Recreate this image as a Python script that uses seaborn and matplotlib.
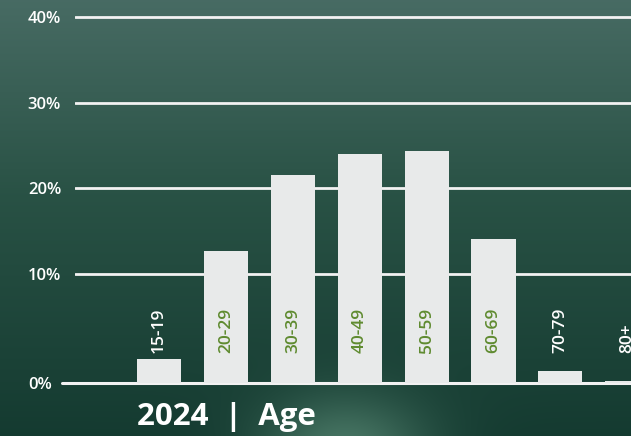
import numpy as np
import matplotlib.pyplot as plt
import seaborn as sns

# ================================
# DATA
# ================================

age_groups = ['15-19', '20-29', '30-39', '40-49', '50-59', '60-69', '70-79', '80+']
share_pct = [2.2, 12.7, 21.5, 24.0, 24.4, 14.1, 1.1, 0.2]
ytick_values = [0, 10, 20, 30, 40]
ytick_labels = ['0%', '10%', '20%', '30%', '40%']
title_text = '2024  |  Age'

# groups whose bar is too short to hold the label get a white label
short_groups = ['15-19', '70-79', '80+']

BAR_COLOR = '#e8eaea'
LABEL_GREEN = '#5f8b30'
LINE_COLOR = '#f2f2f2'

W, H = 631, 436

sns.set_theme(style='white')
plt.rcParams['font.family'] = ['Open Sans', 'DejaVu Sans']

fig = plt.figure(figsize=(W / 100, H / 100), dpi=100)

# ================================
# BACKGROUND (dark green gradient with soft glow at the bottom)
# ================================

bg_ax = fig.add_axes([0, 0, 1, 1], zorder=0)
yy, xx = np.mgrid[0:H, 0:W]
t = yy / (H - 1)
top = np.array([0.28, 0.42, 0.39])
mid = np.array([0.16, 0.32, 0.27])
bot = np.array([0.08, 0.23, 0.19])
img = np.where(t[..., None] < 0.45,
               top + (mid - top) * (t[..., None] / 0.45),
               mid + (bot - mid) * ((t[..., None] - 0.45) / 0.55))
glow = np.exp(-(((xx - 345) / 85.0) ** 2 + ((yy - 450) / 55.0) ** 2))
img = img + glow[..., None] * np.array([0.20, 0.23, 0.20])
img = np.clip(img, 0, 1)
bg_ax.imshow(img, aspect='auto', extent=[0, 1, 0, 1])
bg_ax.axis('off')

# ================================
# BAR CHART
# ================================

# the original stretches the 0-10% band a bit more than the rest
knots_val = [-10, 0, 10, 40, 50]
knots_px = [-109, 0, 109, 366, 451.7]

def fwd(v):
    return np.interp(v, knots_val, knots_px)

def inv(p):
    return np.interp(p, knots_px, knots_val)

y_lo, y_hi = -0.5, 41
bottom_px = 383 - fwd(y_lo)
top_px = 383 - fwd(y_hi)
ax = fig.add_axes([75 / W, (H - bottom_px) / H, 556 / W, (bottom_px - top_px) / H], zorder=1)
ax.patch.set_alpha(0)

sns.barplot(x=age_groups, y=share_pct, color=BAR_COLOR, saturation=1,
            width=0.66, linewidth=0, ax=ax, zorder=3)

ax.set_yscale('function', functions=(fwd, inv))
ax.set_xlim(-1.256, 7.055)
ax.set_ylim(y_lo, y_hi)

for v in ytick_values[1:]:
    ax.axhline(v, color=LINE_COLOR, lw=2, zorder=1)
ax.axhline(0, xmin=-0.024, xmax=1, color=LINE_COLOR, lw=2.2, zorder=2, clip_on=False)

ax.set_yticks(ytick_values)
ax.set_yticklabels(ytick_labels)
ax.yaxis.set_minor_locator(plt.NullLocator())
ax.tick_params(axis='y', which='both', length=0, pad=34, labelsize=12, labelcolor='white')
for lab in ax.get_yticklabels():
    lab.set_ha('left')
    lab.set_fontweight('semibold')
ax.set_xticks([])
ax.set_xlabel('')
ax.set_ylabel('')
for s in ax.spines.values():
    s.set_visible(False)

# vertical labels, all ending at the same height (about 30px above the baseline)
label_y = inv(30)
for i, g in enumerate(age_groups):
    col = 'white' if g in short_groups else LABEL_GREEN
    ax.text(i, label_y, g, rotation=90, ha='center', va='bottom', color=col,
            fontsize=12.5, fontweight='semibold', zorder=4)

fig.text(137 / W, 11 / H, title_text, color='white', fontsize=22.5,
         fontweight='bold', ha='left', va='baseline')

fig.savefig('out.png', dpi=100)
